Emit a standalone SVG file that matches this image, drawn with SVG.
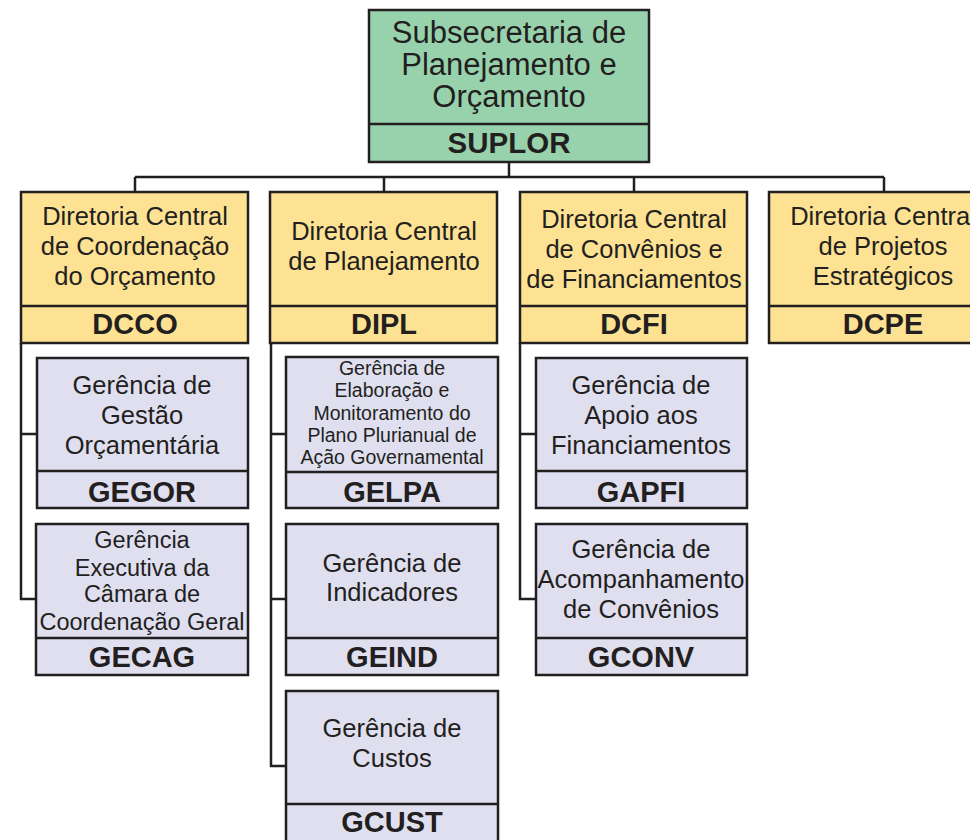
<svg xmlns="http://www.w3.org/2000/svg" width="970" height="840" viewBox="0 0 970 840">
<style>
.b{stroke:#231f20;stroke-width:2.5}
.g{fill:#98d2ad}.y{fill:#fde293}.l{fill:#dfdff0}
.t{font-family:"Liberation Sans",Arial,sans-serif;fill:#231f20;text-anchor:middle}
.c{font-family:"Liberation Sans",Arial,sans-serif;fill:#231f20;text-anchor:middle;font-weight:bold;font-size:29px}
.w{fill:none;stroke:#231f20;stroke-width:2.5}
</style>
<rect width="970" height="840" fill="#fff"/>
<g id="connectors">
<path class="w" d="M509 162V177M135 177H884M135 177V192M384 177V192M634 177V192M884 177V192"/>
<path class="w" d="M21 343V599H37M21 434H37"/>
<path class="w" d="M271 343V766H286M271 434H286M271 599H286"/>
<path class="w" d="M520 343V599H536M520 434H536"/>
</g>
<g id="suplor">
<rect class="b g" x="369" y="10" width="280" height="152"/>
<line class="b" x1="369" y1="124" x2="649" y2="124"/>
<text class="t" font-size="31"><tspan x="509" y="43">Subsecretaria de</tspan><tspan x="509" y="75">Planejamento e</tspan><tspan x="509" y="107">Orçamento</tspan></text>
<text class="c" x="509" y="153" style="font-size:29.5px">SUPLOR</text>
</g>
<g id="dcco">
<rect class="b y" x="21" y="192" width="227" height="151"/>
<line class="b" x1="21" y1="306" x2="248" y2="306"/>
<text class="t" font-size="25.5"><tspan x="135" y="225">Diretoria Central</tspan><tspan x="135" y="255">de Coordenação</tspan><tspan x="135" y="285">do Orçamento</tspan></text>
<text class="c" x="135" y="334">DCCO</text>
</g>
<g id="dipl">
<rect class="b y" x="270" y="192" width="227" height="151"/>
<line class="b" x1="270" y1="306" x2="497" y2="306"/>
<text class="t" font-size="25.5"><tspan x="384" y="240">Diretoria Central</tspan><tspan x="384" y="270">de Planejamento</tspan></text>
<text class="c" x="384" y="334">DIPL</text>
</g>
<g id="dcfi">
<rect class="b y" x="520" y="192" width="227" height="151"/>
<line class="b" x1="520" y1="306" x2="747" y2="306"/>
<text class="t" font-size="25.5"><tspan x="634" y="228">Diretoria Central</tspan><tspan x="634" y="258">de Convênios e</tspan><tspan x="634" y="288">de Financiamentos</tspan></text>
<text class="c" x="634" y="334">DCFI</text>
</g>
<g id="dcpe">
<rect class="b y" x="769" y="192" width="228" height="151"/>
<line class="b" x1="769" y1="306" x2="997" y2="306"/>
<text class="t" font-size="25.5"><tspan x="883" y="225">Diretoria Central</tspan><tspan x="883" y="255">de Projetos</tspan><tspan x="883" y="285">Estratégicos</tspan></text>
<text class="c" x="883" y="334">DCPE</text>
</g>
<g id="gegor">
<rect class="b l" x="37" y="358" width="211" height="150"/>
<line class="b" x1="37" y1="471" x2="248" y2="471"/>
<text class="t" font-size="25.5"><tspan x="142" y="394">Gerência de</tspan><tspan x="142" y="424">Gestão</tspan><tspan x="142" y="454">Orçamentária</tspan></text>
<text class="c" x="142" y="502">GEGOR</text>
</g>
<g id="gecag">
<rect class="b l" x="36" y="524" width="212" height="151"/>
<line class="b" x1="36" y1="638" x2="248" y2="638"/>
<text class="t" font-size="23.5"><tspan x="142" y="548">Gerência</tspan><tspan x="142" y="576">Executiva da</tspan><tspan x="142" y="602">Câmara de</tspan><tspan x="142" y="630">Coordenação Geral</tspan></text>
<text class="c" x="142" y="667">GECAG</text>
</g>
<g id="gelpa">
<rect class="b l" x="286" y="357" width="212" height="151"/>
<line class="b" x1="286" y1="472" x2="498" y2="472"/>
<text class="t" font-size="19.5"><tspan x="392" y="375">Gerência de</tspan><tspan x="392" y="397">Elaboração e</tspan><tspan x="392" y="420">Monitoramento do</tspan><tspan x="392" y="442">Plano Plurianual de</tspan><tspan x="392" y="464">Ação Governamental</tspan></text>
<text class="c" x="392" y="502">GELPA</text>
</g>
<g id="geind">
<rect class="b l" x="286" y="524" width="212" height="151"/>
<line class="b" x1="286" y1="638" x2="498" y2="638"/>
<text class="t" font-size="25.5"><tspan x="392" y="572">Gerência de</tspan><tspan x="392" y="601">Indicadores</tspan></text>
<text class="c" x="392" y="667">GEIND</text>
</g>
<g id="gcust">
<rect class="b l" x="286" y="691" width="212" height="160"/>
<line class="b" x1="286" y1="804" x2="498" y2="804"/>
<text class="t" font-size="25.5"><tspan x="392" y="737">Gerência de</tspan><tspan x="392" y="767">Custos</tspan></text>
<text class="c" x="392" y="832">GCUST</text>
</g>
<g id="gapfi">
<rect class="b l" x="536" y="358" width="211" height="150"/>
<line class="b" x1="536" y1="471" x2="747" y2="471"/>
<text class="t" font-size="25.5"><tspan x="641" y="394">Gerência de</tspan><tspan x="641" y="424">Apoio aos</tspan><tspan x="641" y="454">Financiamentos</tspan></text>
<text class="c" x="641" y="502">GAPFI</text>
</g>
<g id="gconv">
<rect class="b l" x="536" y="524" width="211" height="151"/>
<line class="b" x1="536" y1="638" x2="747" y2="638"/>
<text class="t" font-size="25.5"><tspan x="641" y="558">Gerência de</tspan><tspan x="641" y="588">Acompanhamento</tspan><tspan x="641" y="618">de Convênios</tspan></text>
<text class="c" x="641" y="667">GCONV</text>
</g>
</svg>
